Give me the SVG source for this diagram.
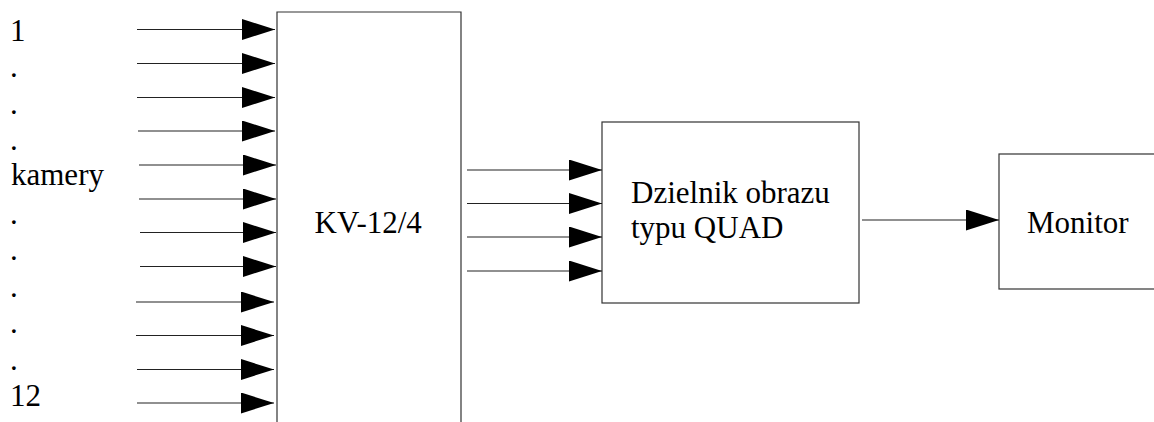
<svg xmlns="http://www.w3.org/2000/svg" width="1154" height="422" viewBox="0 0 1154 422">
<style>
.t{font-family:"Liberation Serif","Times New Roman",serif;font-size:31px;fill:#000}
.box{fill:#fff;stroke:#333;stroke-width:1.2}
.c{stroke:#222;stroke-width:1.2;fill:none;marker-end:url(#ah)}
</style>
<defs>
<marker id="ah" markerUnits="userSpaceOnUse" markerWidth="34" markerHeight="22" refX="33" refY="10.5" orient="auto">
<path d="M0,0 L33,10.5 L0,21 Z" fill="#000"/>
</marker>
</defs>
<rect width="1154" height="422" fill="#fff"/>
<g id="labels">
<text class="t" x="10" y="40.5">1</text>
<text class="t" x="10" y="77">.</text>
<text class="t" x="10" y="113.7">.</text>
<text class="t" x="10" y="150.3">.</text>
<text class="t" x="11" y="185">kamery</text>
<text class="t" x="10" y="223.5">.</text>
<text class="t" x="10" y="260">.</text>
<text class="t" x="10" y="296.7">.</text>
<text class="t" x="10" y="333.3">.</text>
<text class="t" x="10" y="370">.</text>
<text class="t" x="10" y="406">12</text>
</g>
<g id="kv">
<path class="box" d="M277,430 L277,12 L461,12 L461,430"/>
<text class="t" x="314.5" y="232.5">KV-12/4</text>
</g>
<g id="quad">
<rect class="box" x="602" y="122" width="257" height="181"/>
<text class="t" x="631" y="202.5">Dzielnik obrazu</text>
<text class="t" x="631" y="237.5">typu QUAD</text>
</g>
<g id="monitor">
<rect class="box" x="999" y="154" width="160" height="135"/>
<text class="t" x="1027" y="232.5">Monitor</text>
</g>
<g id="connectors">
<line class="c" x1="137" y1="29.5" x2="275" y2="29.5"/>
<line class="c" x1="137" y1="63.5" x2="275" y2="63.5"/>
<line class="c" x1="137" y1="97.5" x2="275" y2="97.5"/>
<line class="c" x1="138" y1="131" x2="275" y2="131"/>
<line class="c" x1="139" y1="165" x2="276" y2="165"/>
<line class="c" x1="139" y1="199" x2="276" y2="199"/>
<line class="c" x1="140" y1="232.5" x2="276" y2="232.5"/>
<line class="c" x1="140" y1="266.5" x2="276" y2="266.5"/>
<line class="c" x1="136" y1="302" x2="274" y2="302"/>
<line class="c" x1="136" y1="335.5" x2="274" y2="335.5"/>
<line class="c" x1="137" y1="369.5" x2="274" y2="369.5"/>
<line class="c" x1="137" y1="403" x2="274" y2="403"/>
<line class="c" x1="467" y1="170" x2="602" y2="170"/>
<line class="c" x1="467" y1="203.5" x2="602" y2="203.5"/>
<line class="c" x1="467" y1="237" x2="602" y2="237"/>
<line class="c" x1="467" y1="271" x2="602" y2="271"/>
<line class="c" x1="862" y1="220" x2="999" y2="220"/>
</g>
</svg>
